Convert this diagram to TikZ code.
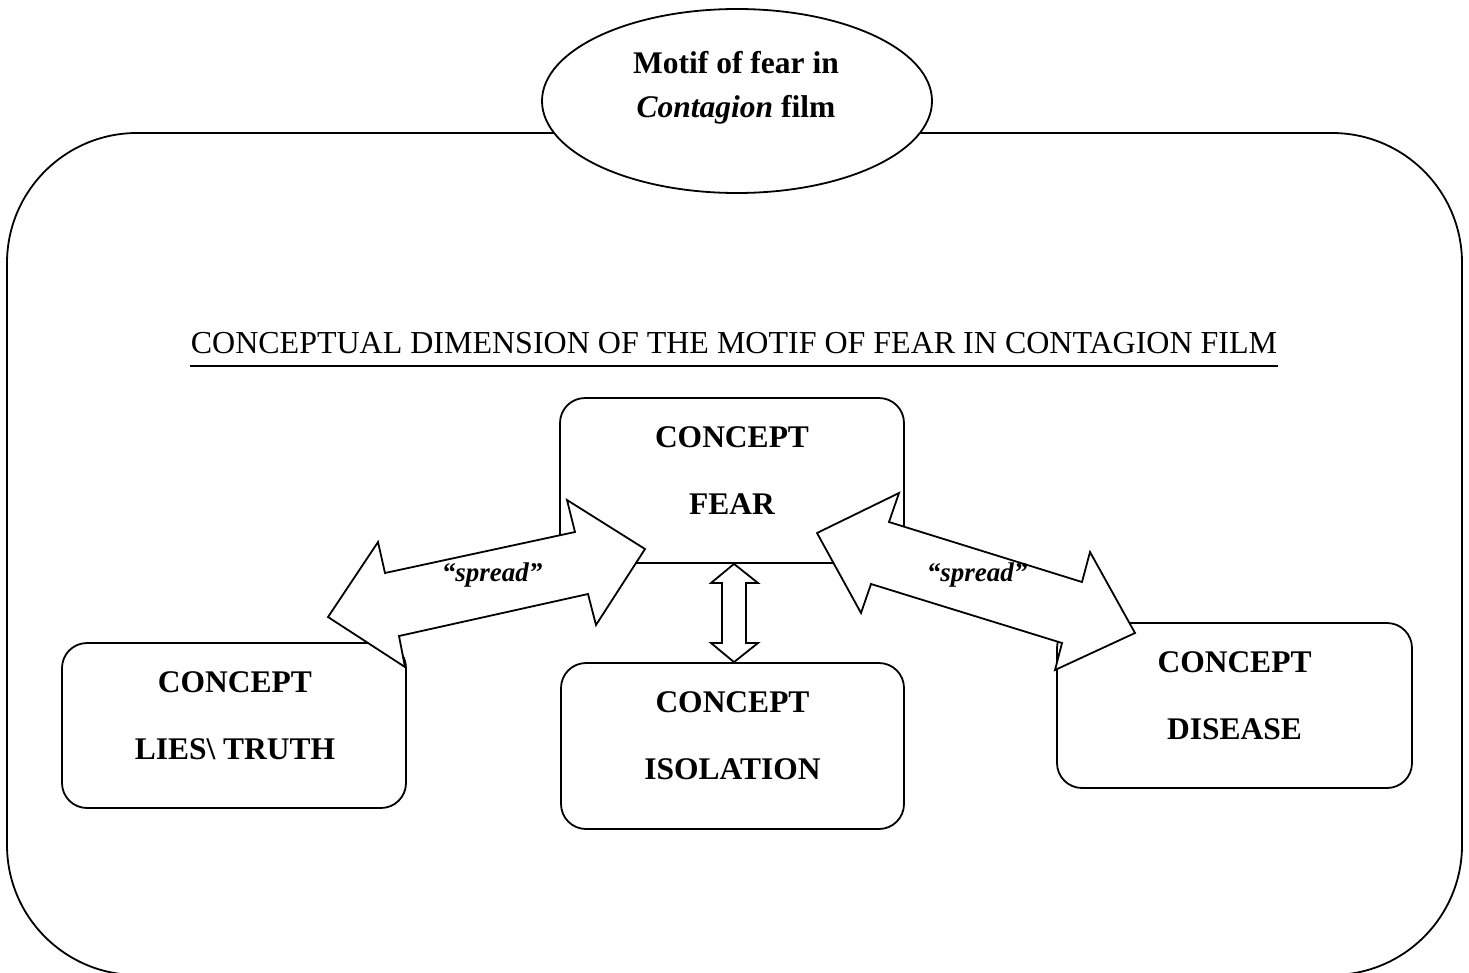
\documentclass[tikz,border=0pt]{standalone}
\usepackage{fontspec}
\setmainfont{Liberation Serif}
\usetikzlibrary{shapes.geometric}
\begin{document}
\begin{tikzpicture}[x=1pt,y=-1pt,line width=1.8pt,line join=miter,
  conceptbox/.style={draw,rounded corners=25pt,inner sep=0pt,fill=white},
  boldtext/.style={anchor=base,inner sep=0pt,font=\bfseries\fontsize{31.5}{36}\selectfont},
  spreadtext/.style={anchor=base,inner sep=0pt,font=\bfseries\itshape\fontsize{27}{30}\selectfont},
  blockarrow/.style={draw,fill=white}]
\useasboundingbox (0,0) rectangle (1469,972);
% outer frame
\draw[rounded corners=130pt] (7,133) rectangle (1462,975);
% ellipse
\node[draw,ellipse,fill=white,minimum width=390pt,minimum height=184pt,inner sep=0pt] (motif) at (737,101) {};
\node[boldtext] (m1) at (736,73) {Motif of fear in};
\node[boldtext] (m2) at (736,117) {\textit{Contagion} film};
% title
\node[anchor=base,inner sep=0pt,font=\fontsize{32}{38}\selectfont] (title) at (734,353)
  {CONCEPTUAL DIMENSION OF THE MOTIF OF FEAR IN CONTAGION FILM};
\draw[line width=2.2pt] ([yshift=-13pt]title.base west) -- ([yshift=-13pt]title.base east);
% boxes
\node[conceptbox,minimum width=344pt,minimum height=165pt] (fear) at (732,480.5) {};
\node[conceptbox,minimum width=343pt,minimum height=166pt] (isolation) at (732.5,746) {};
\node[conceptbox,minimum width=344pt,minimum height=165pt] (lies) at (234,725.5) {};
\node[conceptbox,minimum width=355pt,minimum height=165pt] (disease) at (1234.5,705.5) {};
\node[boldtext] (fear1) at (732,447) {CONCEPT};
\node[boldtext] (fear2) at (732,514) {FEAR};
\node[boldtext] (iso1) at (732.5,712) {CONCEPT};
\node[boldtext] (iso2) at (732.5,779) {ISOLATION};
\node[boldtext] (lies1) at (235,692) {CONCEPT};
\node[boldtext] (lies2) at (235,759) {LIES\textbackslash{} TRUTH};
\node[boldtext] (dis1) at (1234.5,672) {CONCEPT};
\node[boldtext] (dis2) at (1234.5,739) {DISEASE};
% block arrows
\draw[blockarrow] (645,549) -- (567,500) -- (575,532) -- (385,573) -- (378,542) -- (328,617)
  -- (405,667) -- (399,636) -- (588,594) -- (596,625) -- cycle;
\draw[blockarrow] (817,533) -- (899,493) -- (889,522) -- (1082,582) -- (1090,552) -- (1135,633)
  -- (1055,670) -- (1062,643) -- (871,584) -- (861,613) -- cycle;
\draw[blockarrow] (fear.south -| 734,0) -- (758,583) -- (746,583) -- (746,643) -- (758,643)
  -- (isolation.north -| 734,0) -- (711,643) -- (722,643) -- (722,583) -- (711,583) -- cycle;
\node[spreadtext] (s1) at (492,581) {“spread”};
\node[spreadtext] (s2) at (977,581) {“spread”};
\end{tikzpicture}
\end{document}
